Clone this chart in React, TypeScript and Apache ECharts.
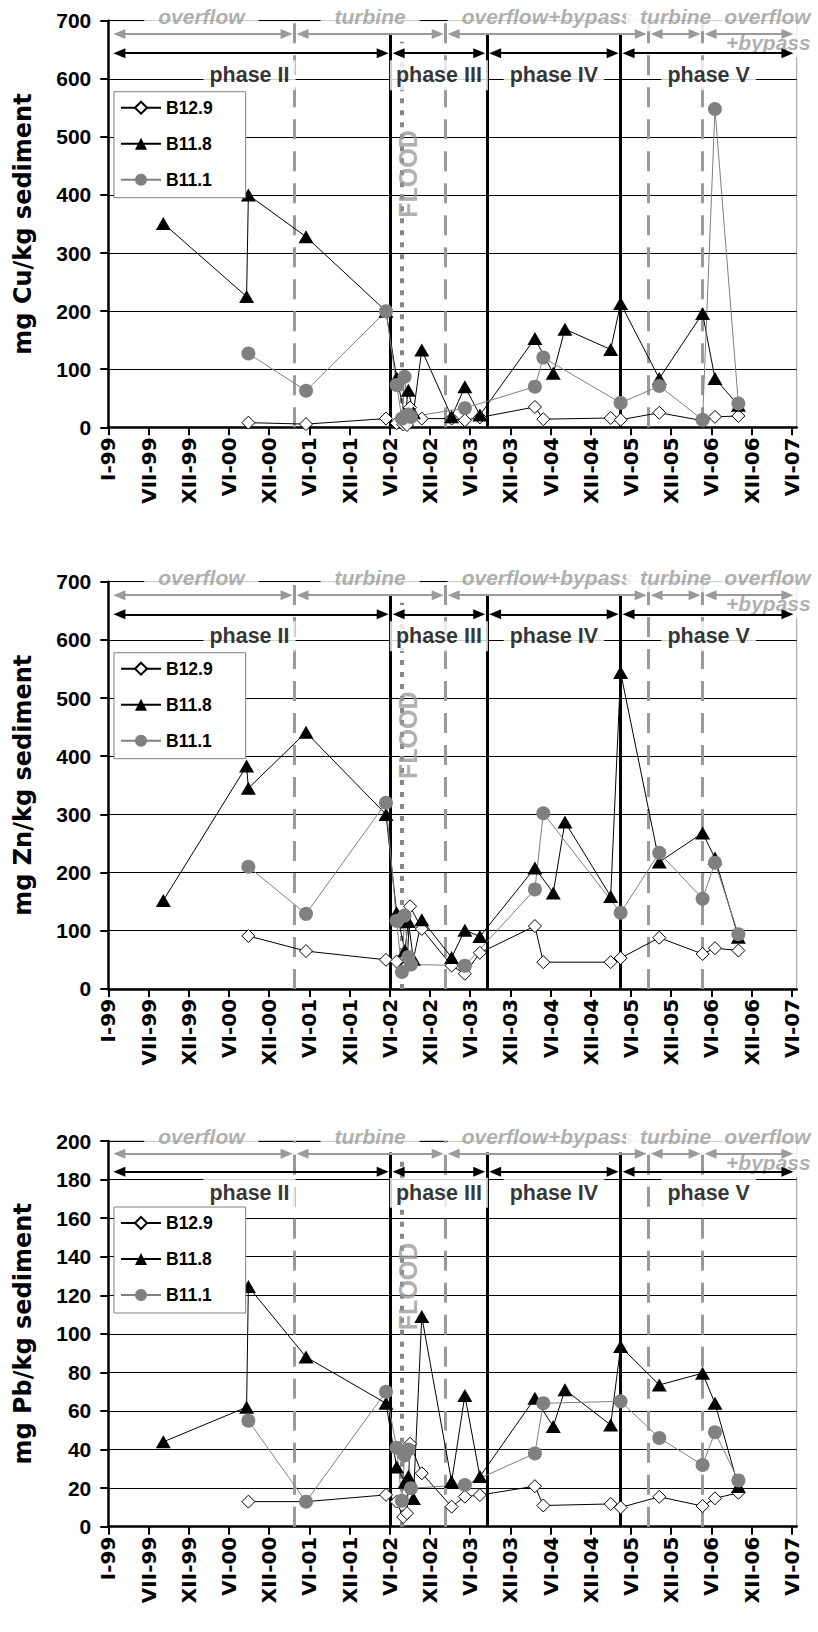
import React, { useEffect, useRef } from 'react';
import * as echarts from 'echarts';

// ---------- axis ticks (Excel date axis, major unit 182 days from 1 Jan 1999) ----------
const tickLabels = ['I-99', 'VII-99', 'XII-99', 'VI-00', 'XII-00', 'VI-01', 'XII-01', 'VI-02', 'XII-02',
  'VI-03', 'XII-03', 'VI-04', 'XII-04', 'VI-05', 'XII-05', 'VI-06', 'XII-06', 'VI-07'];
const majorUnitDays = 182;
const axisEndDays = 3116;

const stationNames = ['B12.9', 'B11.8', 'B11.1'];

// ---------- sampling dates per station ----------
const datesB129 = ['2000-09-26', '2001-06-14', '2002-06-11', '2002-07-29', '2002-08-28', '2002-09-14', '2002-09-28',
  '2002-11-20', '2003-04-04', '2003-06-03', '2003-08-10', '2004-04-15', '2004-05-23', '2005-03-24', '2005-05-08',
  '2005-10-30', '2006-05-14', '2006-07-09', '2006-10-23'];
const datesB118 = ['1999-09-07', '2000-09-18', '2000-09-26', '2001-06-14', '2002-06-11', '2002-07-29', '2002-09-05',
  '2002-09-20', '2002-10-13', '2002-11-20', '2003-04-04', '2003-06-03', '2003-08-10', '2004-04-15', '2004-07-07',
  '2004-08-29', '2005-03-24', '2005-05-08', '2005-10-30', '2006-05-14', '2006-07-09', '2006-10-23'];
const datesB111 = ['2000-09-26', '2001-06-14', '2002-06-11', '2002-07-29', '2002-08-22', '2002-09-03', '2002-09-20',
  '2002-10-02', '2003-06-03', '2004-04-15', '2004-05-23', '2005-05-08', '2005-10-30', '2006-05-14', '2006-07-09',
  '2006-10-23'];

// ---------- Cu ----------
const cuB129 = [8, 5.5, 15, 7, 5, 4, 34, 15, 15, 12, 17, 35, 14, 16, 13, 25, 11.5, 18, 19.5];
const cuB118 = [351, 225, 400, 328, 200, 85, 20, 64, 25, 133, 18, 70, 21, 153, 93, 169, 134, 213, 84, 196, 84, 38];
const cuB111 = [127, 63, 200, 73, 15, 87, 22, 18, 33, 70, 120, 42, 71, 13, 548, 41];
// ---------- Zn ----------
const znB129 = [91, 65, 50, 47, 35, 40, 142, 103, 40, 26, 62, 108, 46, 46, 53, 88, 60, 70, 66];
const znB118 = [152, 383, 345, 441, 300, 131, 66, 116, 51, 119, 54, 101, 90, 208, 165, 287, 159, 544, 218, 268, 225, 89];
const znB111 = [210, 129, 320, 117, 29, 126, 55, 42, 40, 171, 302, 131, 234, 155, 217, 94];
// ---------- Pb ----------
const pbB129 = [13, 13, 16.5, 13, 5, 7, 43, 27.7, 10.4, 15.6, 16.4, 21, 11, 11.8, 10, 15.5, 10.7, 14.7, 17.6];
const pbB118 = [44, 62, 124.5, 88, 64, 31, 23, 26, 14.6, 109, 23.4, 68, 26, 66.6, 52, 71, 52.8, 93.4, 73.5, 79.6, 64, 20.8];
const pbB111 = [55, 13, 70, 41, 13.5, 37, 40, 20, 21.6, 38, 64, 65, 46, 32, 49, 24];

const yAxisTitles = ['mg Cu/kg sediment', 'mg Zn/kg sediment', 'mg Pb/kg sediment'];
const yAxisMax = [700, 700, 200];
const yAxisStep = [100, 100, 20];

// ---------- annotations ----------
const regimeBoundaries = ['2001-04-23', '2003-03-08', '2005-09-12', '2006-05-14'];
const regimeNames = ['overflow', 'turbine', 'overflow+bypass', 'turbine', 'overflow\n+bypass'];
const phaseBoundaries = ['2002-07-02', '2003-09-12', '2005-05-08'];
const phaseNames = ['phase II', 'phase III', 'phase IV', 'phase V'];
const floodDate = '2002-08-21';
const floodLabel = 'FLOOD';

const dayOf = (s: string) => {
  const [y, m, d] = s.split('-').map(Number);
  return (Date.UTC(y, m - 1, d) - Date.UTC(1999, 0, 1)) / 86400000;
};

const FONT = 'Liberation Sans, Arial, sans-serif';
const GRAY = '#9a9a9a';

const gridBoxes = [
  { top: 20.7, height: 406.6, legendOffset: 71 },
  { top: 581.7, height: 407.2, legendOffset: 71 },
  { top: 1141, height: 385.7, legendOffset: 66 },
];

export default function App() {
  const ref = useRef<HTMLDivElement>(null);
  useEffect(() => {
    if (!ref.current) return;
    const chart = echarts.init(ref.current, null, { renderer: 'svg' });
    const tickDays = tickLabels.map((_, i) => i * majorUnitDays);
    const panelData = [
      [cuB129, cuB118, cuB111],
      [znB129, znB118, znB111],
      [pbB129, pbB118, pbB111],
    ];
    const stationDates = [datesB129, datesB118, datesB111];
    const stationStyle = [
      { symbol: 'diamond', symbolSize: 13, itemStyle: { color: '#fff', borderColor: '#000', borderWidth: 1 }, lineStyle: { color: '#000', width: 1 } },
      { symbol: 'triangle', symbolSize: [15, 13], itemStyle: { color: '#000', borderColor: '#000', borderWidth: 0 }, lineStyle: { color: '#000', width: 1 } },
      { symbol: 'circle', symbolSize: 14, itemStyle: { color: '#808080', borderColor: '#808080', borderWidth: 0 }, lineStyle: { color: '#808080', width: 1 } },
    ];

    const regimeDays = regimeBoundaries.map(dayOf);
    const phaseDays = phaseBoundaries.map(dayOf);
    const arrowStart = 50;
    const arrowEnd = 3074;
    const arrowGap = 36;

    const grids: any[] = [];
    const xAxes: any[] = [];
    const yAxes: any[] = [];
    const legends: any[] = [];
    const series: any[] = [];

    gridBoxes.forEach((g, i) => {
      const ymax = yAxisMax[i];
      grids.push({ left: 108.3, width: 688.4, top: g.top, height: g.height, show: true, borderColor: '#999', borderWidth: 1, backgroundColor: 'transparent' });
      xAxes.push({
        type: 'value', gridIndex: i, min: 0, max: axisEndDays,
        axisLine: { show: true, onZero: false, lineStyle: { color: '#000', width: 2.5 } },
        axisTick: { show: true, length: 8, customValues: tickDays, lineStyle: { color: '#000', width: 2 } },
        axisLabel: {
          customValues: tickDays, rotate: 90, margin: 10, color: '#000',
          fontFamily: 'DejaVu Sans', fontWeight: 'bold', fontSize: 20,
          formatter: (v: number) => tickLabels[Math.round(v / majorUnitDays)] ?? '',
        },
        splitLine: { show: false },
      });
      yAxes.push({
        type: 'value', gridIndex: i, min: 0, max: ymax, interval: yAxisStep[i],
        name: yAxisTitles[i], nameLocation: 'middle', nameGap: 73, nameRotate: 90,
        nameTextStyle: { fontFamily: 'DejaVu Sans', fontWeight: 'bold', fontSize: 24, color: '#000' },
        axisLine: { show: true, lineStyle: { color: '#000', width: 2.5 } },
        axisTick: { show: true, length: 8, lineStyle: { color: '#000', width: 2 } },
        axisLabel: { margin: 17, fontFamily: FONT, fontWeight: 'bold', fontSize: 21, color: '#000' },
        splitLine: { show: true, lineStyle: { color: '#000', width: 1 } },
      });
      legends.push({
        data: stationNames, orient: 'vertical', left: 114, top: g.top + g.legendOffset,
        itemWidth: 40, itemHeight: 15, itemGap: 18, padding: [7, 33, 9, 6],
        backgroundColor: '#fff', borderColor: '#808080', borderWidth: 1, z: 10,
        selectedMode: false,
        textStyle: { fontFamily: FONT, fontWeight: 'bold', fontSize: 17.5, color: '#000' },
      });

      // data series
      stationNames.forEach((name, s) => {
        const vals = panelData[i][s];
        series.push({
          type: 'line', name, xAxisIndex: i, yAxisIndex: i, z: 4,
          data: stationDates[s].map((d, k) => [dayOf(d), vals[k]]),
          symbol: stationStyle[s].symbol, symbolSize: stationStyle[s].symbolSize,
          itemStyle: stationStyle[s].itemStyle, lineStyle: stationStyle[s].lineStyle,
          emphasis: { disabled: true }, clip: false, silent: true,
        });
      });

      // vertical lines
      const verticals: any[] = [];
      regimeDays.forEach((d) => verticals.push([
        { coord: [d, 0], lineStyle: { color: GRAY, width: 3, type: [20, 12] } }, { coord: [d, ymax] }]));
      phaseDays.forEach((d) => verticals.push([
        { coord: [d, 0], lineStyle: { color: '#000', width: 3, type: 'solid' } }, { coord: [d, ymax * 0.97] }]));
      verticals.push([
        { coord: [dayOf(floodDate), 0], lineStyle: { color: '#888', width: 4, type: [5, 7] } },
        { coord: [dayOf(floodDate), ymax * 0.948] }]);
      series.push({
        type: 'line', xAxisIndex: i, yAxisIndex: i, data: [], silent: true,
        markLine: { silent: true, symbol: 'none', z: 2, label: { show: false }, animation: false, data: verticals },
      });

      // arrows
      const arrows: any[] = [];
      const rEdges = [arrowStart, ...regimeDays, arrowEnd];
      for (let k = 0; k < rEdges.length - 1; k++) {
        const a = k === 0 ? rEdges[k] : rEdges[k] + arrowGap;
        const b = k === rEdges.length - 2 ? rEdges[k + 1] : rEdges[k + 1] - arrowGap;
        arrows.push([{ coord: [a, ymax * 0.967], lineStyle: { color: GRAY, width: 2, type: 'solid' } }, { coord: [b, ymax * 0.967] }]);
      }
      const pEdges = [arrowStart, ...phaseDays, arrowEnd];
      for (let k = 0; k < pEdges.length - 1; k++) {
        const a = k === 0 ? pEdges[k] : pEdges[k] + arrowGap;
        const b = k === pEdges.length - 2 ? pEdges[k + 1] : pEdges[k + 1] - arrowGap;
        arrows.push([{ coord: [a, ymax * 0.92], lineStyle: { color: '#000', width: 2, type: 'solid' } }, { coord: [b, ymax * 0.92] }]);
      }
      series.push({
        type: 'line', xAxisIndex: i, yAxisIndex: i, data: [], silent: true,
        markLine: { silent: true, symbol: ['triangle', 'triangle'], symbolSize: [10, 12], z: 6, label: { show: false }, animation: false, data: arrows },
      });

      // text labels
      const labels: any[] = [];
      const rMid = [0, ...regimeDays, axisEndDays];
      regimeNames.forEach((t, k) => {
        const last = k === regimeNames.length - 1;
        labels.push({
          name: t,
          value: last ? [axisEndDays, ymax * 0.979] : [(rMid[k] + rMid[k + 1]) / 2, ymax * 1.011],
          label: {
            color: GRAY, fontStyle: 'italic', fontWeight: 'bold', fontSize: 21, fontFamily: FONT,
            backgroundColor: '#fff', padding: last ? [2, 2] : [2, 14],
            align: last ? 'right' : 'center', offset: last ? [16, 0] : [0, 0],
            lineHeight: 26,
          },
        });
      });
      const pMid = [0, ...phaseDays, axisEndDays];
      phaseNames.forEach((t, k) => {
        labels.push({
          name: t,
          value: [(pMid[k] + pMid[k + 1]) / 2, ymax * 0.866],
          label: { color: '#000', fontWeight: 'bold', fontSize: 21.5, fontFamily: FONT, backgroundColor: '#fff', padding: [4, 6] },
        });
      });
      labels.push({
        name: floodLabel,
        value: [dayOf(floodDate) + 30, ymax * 0.623],
        label: { color: GRAY, fontWeight: 'bold', fontSize: 25, fontFamily: FONT, rotate: 90 },
      });
      series.push({
        type: 'scatter', xAxisIndex: i, yAxisIndex: i, z: 3, silent: true, clip: false,
        symbol: 'circle', symbolSize: 1, itemStyle: { color: 'rgba(0,0,0,0)' },
        label: { show: true, position: 'inside', formatter: '{b}' },
        emphasis: { disabled: true },
        data: labels,
      });
    });

    chart.setOption({
      animation: false,
      grid: grids,
      xAxis: xAxes,
      yAxis: yAxes,
      legend: legends,
      series,
    });
    return () => chart.dispose();
  }, []);
  return <div ref={ref} style={{ position: 'absolute', left: 0, top: 0, width: 818, height: 1632, background: '#fff' }} />;
}
